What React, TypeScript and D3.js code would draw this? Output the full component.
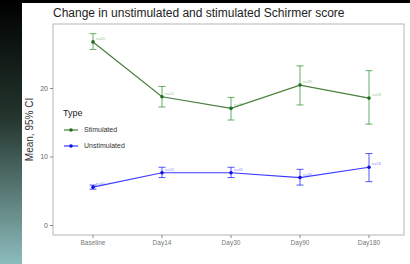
import * as d3 from 'd3';

const days = ['Baseline', 'Day14', 'Day30', 'Day90', 'Day180'];
const stimMean = [26.8, 18.8, 17.1, 20.5, 18.6];
const stimLow = [25.7, 17.3, 15.4, 17.6, 14.8];
const stimHigh = [28.0, 20.3, 18.7, 23.3, 22.6];
const stimN = ['n=60', 'n=52', 'n=45', 'n=39', 'n=18'];
const unstMean = [5.6, 7.7, 7.7, 7.0, 8.5];
const unstLow = [5.3, 7.0, 7.0, 5.9, 6.4];
const unstHigh = [5.9, 8.5, 8.5, 8.2, 10.5];
const unstN = ['n=60', 'n=52', 'n=45', 'n=39', 'n=18'];
const yTicks = [0, 10, 20];

const W = 410;
const H = 264;
const panel = { left: 53, right: 404, top: 24, bottom: 235 };

interface Series {
  name: string;
  mean: number[];
  low: number[];
  high: number[];
  n: string[];
  line: string;
  bar: string;
  point: string;
}

const series: Series[] = [
  { name: 'Stimulated', mean: stimMean, low: stimLow, high: stimHigh, n: stimN, line: '#4a7f3c', bar: '#3c9a3c', point: '#1f6e1f' },
  { name: 'Unstimulated', mean: unstMean, low: unstLow, high: unstHigh, n: unstN, line: '#3b3bff', bar: '#2a2aff', point: '#1010e0' },
];

export default function App() {
  const x = d3.scalePoint<string>().domain(days).range([93, 369]);
  const y = d3.scaleLinear().domain([0, 10]).range([225.5, 157]);
  const line = d3.line<number>().x((_, i) => x(days[i])!).y(d => y(d));
  const cap = 3.5;

  return (
    <svg
      width={W}
      height={H}
      style={{ position: 'absolute', left: 0, top: 0, fontFamily: 'Liberation Sans, Arial, sans-serif' }}
    >
      <defs>
        <linearGradient id="side" x1="0" y1="0" x2="0" y2="1">
          <stop offset="0" stopColor="#000000" />
          <stop offset="0.45" stopColor="#24362e" />
          <stop offset="1" stopColor="#8dbcbc" />
        </linearGradient>
      </defs>
      <rect x={0} y={0} width={W} height={H} fill="#ffffff" />
      <rect x={0} y={0} width={W} height={3} fill="#000" />
      <rect x={0} y={0} width={22} height={H} fill="url(#side)" />

      <text x={53} y={17} fontSize={12} fill="#222">
        Change in unstimulated and stimulated Schirmer score
      </text>

      <rect
        x={panel.left}
        y={panel.top}
        width={panel.right - panel.left}
        height={panel.bottom - panel.top}
        fill="none"
        stroke="#b5b5b5"
        strokeWidth={1}
      />

      {/* y axis */}
      {yTicks.map(t => (
        <g key={t}>
          <line x1={panel.left - 3} x2={panel.left} y1={y(t)} y2={y(t)} stroke="#888" />
          <text x={panel.left - 5} y={y(t)} dy="0.35em" textAnchor="end" fontSize={7} fill="#666">
            {t}
          </text>
        </g>
      ))}
      <text
        transform={`translate(33,${(panel.top + panel.bottom) / 2}) rotate(-90)`}
        textAnchor="middle"
        fontSize={10}
        fill="#333"
      >
        Mean, 95% CI
      </text>

      {/* x axis */}
      {days.map(d => (
        <g key={d}>
          <line x1={x(d)} x2={x(d)} y1={panel.bottom} y2={panel.bottom + 3} stroke="#888" />
          <text x={x(d)} y={panel.bottom + 10} textAnchor="middle" fontSize={6.5} fill="#777">
            {d}
          </text>
        </g>
      ))}

      {series.map(s => (
        <g key={s.name}>
          <path d={line(s.mean) || ''} fill="none" stroke={s.line} strokeWidth={1.2} />
          {days.map((d, i) => (
            <g key={d}>
              <line x1={x(d)} x2={x(d)} y1={y(s.low[i])} y2={y(s.high[i])} stroke={s.bar} strokeWidth={0.8} />
              <line x1={x(d)! - cap} x2={x(d)! + cap} y1={y(s.low[i])} y2={y(s.low[i])} stroke={s.bar} strokeWidth={0.8} />
              <line x1={x(d)! - cap} x2={x(d)! + cap} y1={y(s.high[i])} y2={y(s.high[i])} stroke={s.bar} strokeWidth={0.8} />
              <circle cx={x(d)} cy={y(s.mean[i])} r={1.8} fill={s.point} />
              <text x={x(d)! + 3} y={y(s.mean[i]) - 2} fontSize={4} fill={s.bar} opacity={0.55}>
                {s.n[i]}
              </text>
            </g>
          ))}
        </g>
      ))}

      {/* legend */}
      <text x={63} y={116} fontSize={9} fill="#222">Type</text>
      {series.map((s, i) => {
        const ly = 130 + i * 16;
        return (
          <g key={s.name}>
            <line x1={64} x2={78} y1={ly} y2={ly} stroke={s.line} strokeWidth={1.2} />
            <circle cx={71} cy={ly} r={1.8} fill={s.point} />
            <text x={84} y={ly} dy="0.35em" fontSize={7} fill="#333">{s.name}</text>
          </g>
        );
      })}
    </svg>
  );
}
